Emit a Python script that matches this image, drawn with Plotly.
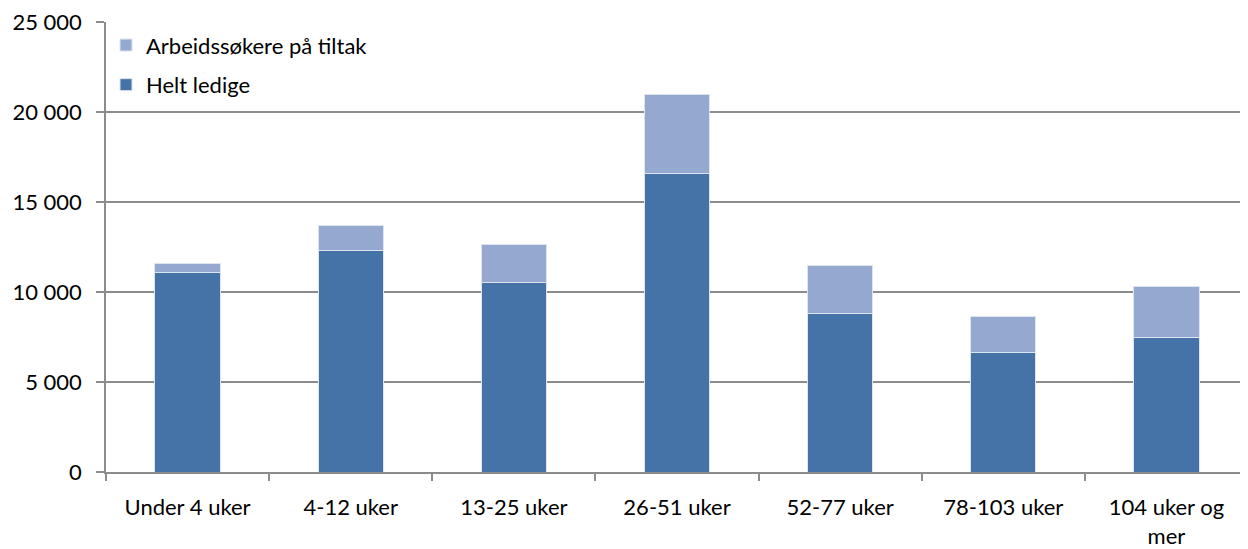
import plotly.graph_objects as go

# DATA
kategorier = ['Under 4 uker', '4-12 uker', '13-25 uker', '26-51 uker',
              '52-77 uker', '78-103 uker', '104 uker og<br>mer']
helt_ledige = [11080, 12300, 10530, 16620, 8840, 6660, 7500]
totalt = [11620, 13700, 12630, 20980, 11470, 8640, 10320]
tiltak = [t - h for t, h in zip(totalt, helt_ledige)]

fig = go.Figure()
fig.add_trace(go.Bar(
    x=kategorier, y=helt_ledige, name='Helt ledige', legendgroup='a', legendrank=2,
    marker=dict(color='#4573A7', line=dict(color='#dce4f0', width=1)),
    width=0.4
))
fig.add_trace(go.Bar(
    x=kategorier, y=tiltak, name='Arbeidssøkere på tiltak', legendgroup='b', legendrank=1,
    marker=dict(color='#95A9D0', line=dict(color='#dce4f0', width=1)),
    width=0.4
))

# page body has an 8px margin, so the figure is a bit smaller and shifted
fig.update_layout(
    barmode='stack',
    width=1240, height=541,
    margin=dict(l=98, r=0, t=14, b=77),
    plot_bgcolor='white', paper_bgcolor='white',
    separators=', ',
    font=dict(family='Lato, Carlito, sans-serif', size=22, color='black'),
    showlegend=True,
    legend=dict(x=0.0, y=0.995, xanchor='left', yanchor='top',
                traceorder='grouped', bgcolor='rgba(0,0,0,0)',
                font=dict(size=22), tracegroupgap=8),
)

fig.update_yaxes(
    range=[0, 25020], tickvals=[0, 5000, 10000, 15000, 20000, 25000],
    tickformat=',d', automargin=False,
    showgrid=True, gridcolor='#8c8c8c', gridwidth=1.5,
    showline=True, linecolor='#8c8c8c', linewidth=1.5,
    ticks='outside', ticklen=8, tickcolor='#8c8c8c', tickwidth=1.5,
    ticklabelstandoff=10, zeroline=False
)
fig.update_xaxes(
    automargin=False,
    showline=True, linecolor='#8c8c8c', linewidth=1.5,
    ticks='outside', tickson='boundaries', ticklen=7,
    tickcolor='#8c8c8c', tickwidth=1.5, showgrid=False,
    ticklabelstandoff=15
)

fig.write_html("out.html")
